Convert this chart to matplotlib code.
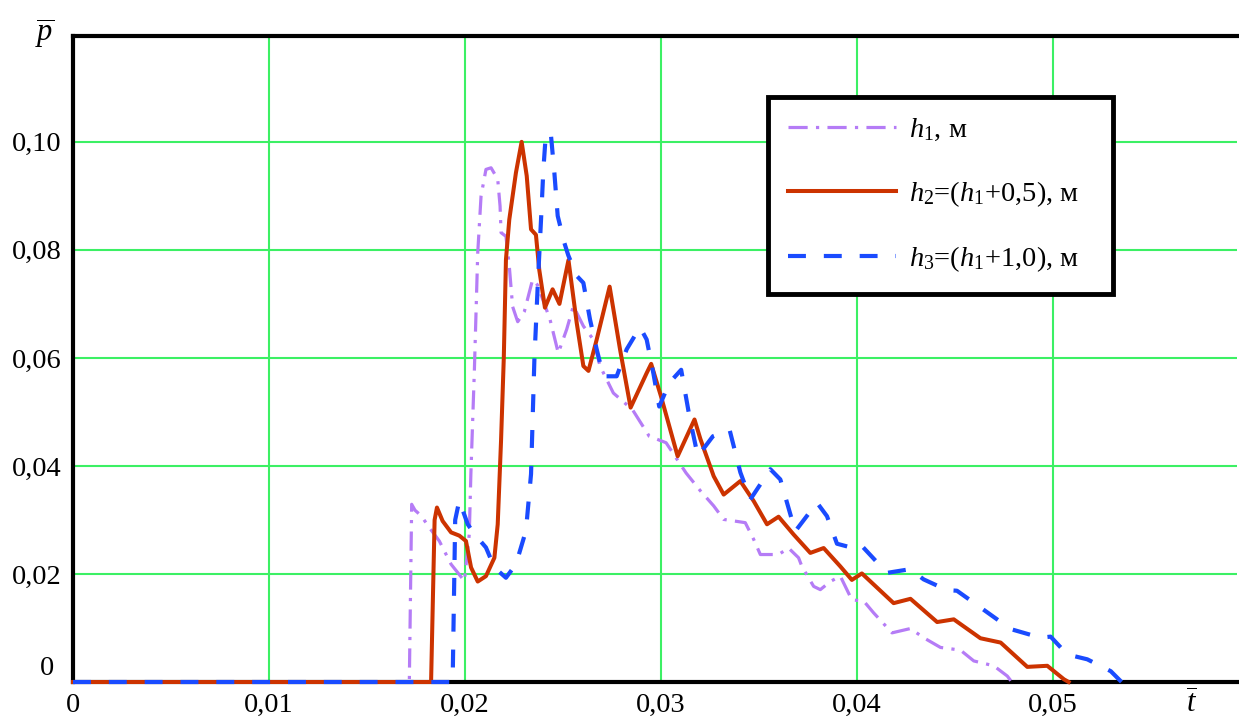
import numpy as np
import matplotlib
matplotlib.use("Agg")
import matplotlib.pyplot as plt

plt.rcParams['font.family'] = ['Liberation Serif', 'DejaVu Serif']
plt.rcParams['mathtext.fontset'] = 'custom'
plt.rcParams['mathtext.rm'] = 'Liberation Serif'
plt.rcParams['mathtext.it'] = 'Liberation Serif:italic'

# h1 curve (dash-dot, violet)
t_h1 = [0, 0.01716, 0.01728, 0.01745, 0.01776, 0.0182, 0.01869, 0.01929, 0.01997, 0.02022,
        0.0203, 0.02048, 0.02065, 0.02082, 0.02107, 0.02133, 0.02167, 0.02179, 0.02184, 0.02209,
        0.02226, 0.02243, 0.02269, 0.02303, 0.02345, 0.0237, 0.02434, 0.02476, 0.02519, 0.02553,
        0.02604, 0.02655, 0.02689, 0.02757, 0.02855, 0.0294, 0.03026, 0.03128, 0.03201, 0.03269,
        0.0332, 0.0343, 0.03473, 0.03507, 0.036, 0.03651, 0.03702, 0.03719, 0.03779, 0.03813,
        0.03864, 0.03915, 0.03974, 0.04034, 0.04085, 0.04179, 0.04273, 0.0434, 0.04426, 0.04528,
        0.04596, 0.04698, 0.04767, 0.0479]
p_h1 = [0, 0, 0.0329, 0.0318, 0.0308, 0.0285, 0.0261, 0.0218, 0.0187, 0.0274,
        0.0385, 0.0578, 0.0794, 0.090, 0.0949, 0.0952, 0.0931, 0.0881, 0.0832, 0.0825,
        0.077, 0.0695, 0.0667, 0.0686, 0.0745, 0.0735, 0.0671, 0.0609, 0.0653, 0.0696,
        0.0659, 0.0634, 0.0585, 0.0535, 0.0504, 0.0455, 0.0443, 0.0387, 0.0354, 0.0326,
        0.0301, 0.0295, 0.0264, 0.0236, 0.0236, 0.0248, 0.023, 0.0214, 0.0177, 0.0171,
        0.0186, 0.0196, 0.0152, 0.015, 0.0128, 0.0091, 0.0099, 0.0082, 0.0064, 0.0059,
        0.0039, 0.003, 0.0011, 0]

# h2 curve (solid, red)
t_h2 = [0, 0.01827, 0.01845, 0.01857, 0.01886, 0.01929, 0.01971, 0.02005, 0.02031, 0.02065,
        0.02107, 0.0215, 0.02167, 0.02184, 0.02198, 0.02209, 0.02226, 0.0226, 0.02289, 0.02315,
        0.02337, 0.02362, 0.02379, 0.02408, 0.02447, 0.02482, 0.02528, 0.0257, 0.02604, 0.0263,
        0.02672, 0.02738, 0.02791, 0.02845, 0.02927, 0.0295, 0.03, 0.03085, 0.03171, 0.03201,
        0.03269, 0.0332, 0.03405, 0.03473, 0.03541, 0.036, 0.03677, 0.03762, 0.0383, 0.03915,
        0.03974, 0.04025, 0.04187, 0.04273, 0.04409, 0.04494, 0.0463, 0.04733, 0.04869, 0.04971,
        0.05056, 0.0508]
p_h2 = [0, 0, 0.030, 0.0323, 0.0298, 0.0277, 0.0271, 0.0261, 0.0212, 0.0186,
        0.0196, 0.023, 0.0292, 0.0447, 0.060, 0.0782, 0.0856, 0.0943, 0.100, 0.0937,
        0.0838, 0.0828, 0.0763, 0.0693, 0.0727, 0.0700, 0.0781, 0.0665, 0.0585, 0.0576,
        0.0634, 0.0732, 0.0616, 0.0508, 0.0572, 0.0589, 0.0529, 0.0418, 0.0486, 0.045,
        0.0381, 0.0347, 0.0372, 0.0335, 0.0292, 0.0306, 0.0273, 0.0239, 0.0248, 0.0214,
        0.0189, 0.0201, 0.0146, 0.0154, 0.0111, 0.0116, 0.0081, 0.0073, 0.0028, 0.003,
        0.0005, 0]

# h3 curve (dashed, blue)
t_h3 = [0, 0.01937, 0.0195, 0.01971, 0.02014, 0.02048, 0.02107, 0.0215, 0.02209, 0.0226,
        0.02311, 0.02337, 0.02354, 0.02371, 0.02388, 0.024, 0.02413, 0.02439, 0.02456, 0.02473,
        0.02507, 0.02527, 0.0257, 0.02604, 0.02638, 0.02672, 0.02706, 0.02774, 0.02825, 0.02893,
        0.02927, 0.02961, 0.02991, 0.03043, 0.03103, 0.03145, 0.03188, 0.03265, 0.0335, 0.03405,
        0.03456, 0.03558, 0.03609, 0.03685, 0.03796, 0.03847, 0.03898, 0.0396, 0.04017, 0.04153,
        0.04273, 0.0434, 0.0446, 0.0451, 0.0463, 0.04784, 0.04937, 0.04988, 0.05073, 0.05175,
        0.05295, 0.0535]
p_h3 = [0, 0, 0.030, 0.0336, 0.0292, 0.0274, 0.0249, 0.0212, 0.0193, 0.0218,
        0.028, 0.0385, 0.0596, 0.0733, 0.0856, 0.0949, 0.1017, 0.1011, 0.0943, 0.0863,
        0.0813, 0.079, 0.0752, 0.0739, 0.0671, 0.0616, 0.0566, 0.0566, 0.0616, 0.0657,
        0.0634, 0.0572, 0.051, 0.0554, 0.0578, 0.0492, 0.0418, 0.0455, 0.0467, 0.0388,
        0.0338, 0.0394, 0.0375, 0.0279, 0.0332, 0.0307, 0.0256, 0.025, 0.0255, 0.0202,
        0.0209, 0.019, 0.017, 0.0169, 0.0138, 0.0098, 0.0082, 0.0084, 0.0051, 0.0042,
        0.002, 0]

x_ticks = [0, 0.01, 0.02, 0.03, 0.04, 0.05]
x_labels = ['0', '0,01', '0,02', '0,03', '0,04', '0,05']
y_ticks = [0.02, 0.04, 0.06, 0.08, 0.10]
y_labels = ['0,02', '0,04', '0,06', '0,08', '0,10']

labels = [r'$h_1$, м', r'$h_2$=($h_1$+0,5), м', r'$h_3$=($h_1$+1,0), м']

fig = plt.figure(figsize=(12.39, 7.22), dpi=100)
ax = fig.add_axes([73 / 1239, 40 / 722, 1164 / 1239, 646 / 722])

ax.plot(t_h1, p_h1, color='#b57cf6', lw=2.3, linestyle=(0, (6.0, 2.6, 1.0, 2.6)),
        label=labels[0], clip_on=False, zorder=3)
ax.plot(t_h2, p_h2, color='#cc3300', lw=2.9, linestyle='-',
        label=labels[1], clip_on=False, zorder=4)
ax.plot(t_h3, p_h3, color='#1a4bff', lw=3.0, linestyle=(0, (4.3, 4.3)),
        label=labels[2], clip_on=False, zorder=5)

ax.set_xlim(0, 0.05939)
ax.set_ylim(0, 0.1196)
ax.set_xticks(x_ticks)
ax.set_xticklabels(x_labels)
ax.set_yticks(y_ticks)
ax.set_yticklabels(y_labels)
ax.tick_params(length=0, labelsize=20.5)
ax.tick_params(axis='x', pad=8)
ax.tick_params(axis='y', pad=8)
ax.annotate('0', xy=(0, 0), xycoords='data', xytext=(-19, 10),
            textcoords='offset points', ha='center', va='center', fontsize=20.5)

ax.grid(True, color='#3cf064', lw=1.5, zorder=0)
ax.set_axisbelow(True)

for side in ['top', 'left', 'bottom']:
    ax.spines[side].set_linewidth(3)
    ax.spines[side].set_color('black')
ax.spines['right'].set_visible(False)

fig.text(45 / 1239, 1 - 34 / 722, r'$\overline{p}$', fontsize=22, ha='center', va='center')
fig.text(1192 / 1239, 1 - 705 / 722, r'$\overline{t}$', fontsize=22, ha='center', va='center')

leg = ax.legend(loc='upper left', bbox_to_anchor=(0.597, 0.5975, 0.2965, 0.308),
                mode='expand', fontsize=20.5, handlelength=3.8, handletextpad=0.45,
                labelspacing=1.25, borderpad=0.7, borderaxespad=0, fancybox=False,
                framealpha=1, edgecolor='black')
leg.get_frame().set_linewidth(3.5)
leg.set_zorder(10)

plt.savefig('out.png', dpi=100)
